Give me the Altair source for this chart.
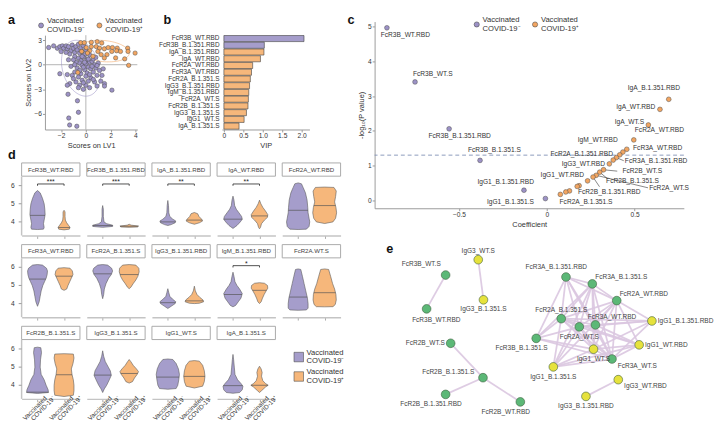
import altair as alt
import numpy as np
import pandas as pd

FONT = "Liberation Sans"
PURPLE = "#a59dcb"
ORANGE = "#f6b77b"
DOT_PURPLE = "#9c92c6"
DOT_ORANGE = "#f2a561"
GREEN = "#5cb877"
YELLOW = "#e6e23c"
EDGE = "#dac6e0"
AX = "#9a9a9a"
TXT = "#333333"

GROUPS = ["Vaccinated COVID-19⁻", "Vaccinated COVID-19⁺"]

# ---------------- panel a: PLS-DA scores ----------------
A_NEG = [(-3.0, 2.1), (-2.6, 2.3), (-2.3, 2.0), (-2.1, 2.2), (-1.9, 2.3), (-1.8, 2.0), (-1.6, 2.3),
         (-1.5, 1.9), (-1.4, 2.2), (-1.2, 1.7), (-1.1, 2.4), (-1.0, 2.0), (-0.9, 1.5), (-0.8, 2.2),
         (-0.7, 1.8), (-0.6, 2.5), (-0.5, 1.4), (-0.4, 2.0), (-0.3, 1.6), (-0.2, 2.3), (-0.1, 1.2),
         (0.0, 1.8), (-1.3, 1.3), (-0.9, 1.0), (-2.0, 1.6), (-1.6, 1.5),
         (-0.6, 0.8), (-0.4, 0.5), (-0.2, 0.9), (0.1, 0.6), (0.3, 0.3), (-0.5, 0.2), (-0.3, -0.1),
         (0.0, 0.1), (0.2, -0.3), (0.5, 0.4), (0.7, 0.0), (-0.8, 0.3), (-1.0, 0.6), (-0.7, -0.4),
         (-0.1, -0.6), (0.4, -0.5), (0.8, -0.4), (1.0, 0.2), (-1.2, -0.2), (-0.9, -0.9), (-0.4, -1.1),
         (0.1, -1.0), (0.6, -0.9), (1.1, -0.7), (-1.5, -1.2), (-1.1, -1.3), (-0.6, -1.5), (0.0, -1.4),
         (0.4, -1.6), (0.9, -1.3), (1.3, -1.3), (-0.3, -1.9), (0.2, -2.0), (0.7, -2.1), (1.2, -2.0),
         (1.5, -2.3), (-0.8, -2.1), (-1.3, -2.3), (-0.5, -2.5), (0.0, -2.5), (0.3, -2.8), (-0.2, -3.0),
         (-0.6, -2.8), (0.9, -2.6), (1.5, -2.6), (2.1, -3.1), (0.5, -0.2), (0.2, 0.7), (-0.1, 0.3),
         (0.6, 0.7), (0.9, -0.1), (-0.2, -0.3), (1.4, -0.5), (-2.1, -1.1), (-1.5, -2.5), (-0.3, 1.0),
         (0.3, 1.2), (-0.5, -0.7), (0.3, -1.2), (-1.0, -1.7), (0.6, -1.8), (-0.9, 0.0), (-1.4, 0.6),
         (0.8, 0.9), (-0.2, -2.2),
         (-1.44, -3.6), (-0.68, -4.4), (-0.6, -5.8), (-1.38, -6.5), (-1.31, -7.35), (-0.73, -7.5)]
A_POS = [(-0.42, 2.69), (-0.13, 2.69), (0.44, 2.73), (0.91, 2.81), (1.28, 2.65), (0.44, 2.21),
         (0.84, 2.21), (1.1, 2.02), (1.49, 1.94), (1.8, 2.09), (2.14, 2.09), (2.53, 2.02), (3.37, 2.02),
         (3.97, 1.42), (2.09, 1.62), (2.48, 1.7), (2.79, 1.62), (3.4, 1.62), (3.13, 0.71), (3.45, -0.08),
         (1.7, 1.23), (1.23, 1.23), (0.97, 1.62), (0.31, 1.7), (0.03, 2.09), (0.13, 1.42), (-0.65, -0.95),
         (-0.34, 1.62), (1.49, 0.83), (0.57, 1.03), (2.4, 0.83)]
ELL_K = 1.6

# ---------------- panel b: VIP ----------------
B_FEATURES = ["FcR3B_WT.RBD", "FcR3B_B.1.351.RBD", "IgA_B.1.351.RBD", "IgA_WT.RBD", "FcR2A_WT.RBD",
              "FcR3A_WT.RBD", "FcR2A_B.1.351.S", "IgG3_B.1.351.RBD", "IgM_B.1.351.RBD", "FcR2A_WT.S",
              "FcR2B_B.1.351.S", "IgG3_B.1.351.S", "IgG1_WT.S", "IgA_B.1.351.S"]
B_VIP = [2.06, 1.04, 1.03, 0.94, 0.74, 0.71, 0.68, 0.66, 0.64, 0.63, 0.62, 0.58, 0.52, 0.39]
B_GROUP = [0, 0, 1, 1, 1, 1, 1, 1, 1, 1, 1, 1, 1, 1]

# ---------------- panel c: volcano ----------------
C_NAMES = ["FcR3B_WT.RBD", "FcR3B_WT.S", "FcR3B_B.1.351.RBD", "FcR3B_B.1.351.S", "IgG1_B.1.351.RBD",
           "IgG1_B.1.351.S", "IgA_B.1.351.RBD", "IgA_WT.RBD", "IgA_WT.S", "FcR2A_WT.RBD", "FcR3A_WT.RBD",
           "IgM_WT.RBD", "FcR2A_B.1.351.RBD", "FcR3A_B.1.351.RBD", "IgM_B.1.351.RBD", "IgG3_WT.RBD",
           "FcR2B_WT.S", "FcR2B_B.1.351.S", "FcR2A_WT.S", "FcR2B_B.1.351.RBD", "IgG1_WT.RBD",
           "IgG3_B.1.351.RBD", "IgG3_B.1.351.S", "FcR2A_B.1.351.S", "IgA_B.1.351.S", "IgM_WT.S"]
C_COEF = [-0.91, -0.75, -0.556, -0.38, -0.13, -0.008, 0.694, 0.644, 0.578, 0.495, 0.455, 0.433, 0.415,
          0.396, 0.378, 0.356, 0.323, 0.301, 0.281, 0.263, 0.232, 0.184, 0.173, 0.129, 0.108, 0.077]
C_LOGP = [4.97, 3.41, 2.06, 1.15, 0.29, 0.05, 2.91, 2.62, 2.17, 1.74, 1.47, 1.39, 1.31, 1.23, 1.16,
          1.05, 0.88, 0.81, 0.72, 0.67, 0.56, 0.42, 0.40, 0.27, 0.24, 0.17]
C_P_THRESHOLD = 0.05
C_LABELS = ["FcR3B_WT.RBD", "FcR3B_WT.S", "FcR3B_B.1.351.RBD", "FcR3B_B.1.351.S", "IgG1_B.1.351.RBD",
            "IgG1_B.1.351.S", "IgA_B.1.351.RBD", "IgA_WT.RBD", "IgA_WT.S", "FcR2A_WT.RBD", "IgM_WT.RBD",
            "FcR3A_WT.RBD", "FcR2A_B.1.351.RBD", "IgG3_WT.RBD", "FcR3A_B.1.351.RBD", "IgG1_WT.RBD",
            "FcR2B_WT.S", "FcR2B_B.1.351.S", "FcR2A_WT.S", "FcR2B_B.1.351.RBD", "FcR2A_B.1.351.S"]
C_LABEL_X = [-0.805, -0.649, -0.496, -0.298, -0.234, -0.207, 0.609, 0.506, 0.47, 0.641, 0.29, 0.631,
             0.199, 0.208, 0.622, 0.088, 0.543, 0.488, 0.696, 0.355, 0.223]
C_LABEL_Y = [4.75, 3.65, 1.86, 1.44, 0.535, -0.04, 3.22, 2.69, 2.25, 2.01, 1.73, 1.51, 1.34, 1.04, 1.12,
             0.74, 0.84, 0.56, 0.34, 0.24, -0.04]
C_LEADERS = ["FcR3A_B.1.351.RBD", "FcR2B_WT.S", "FcR2B_B.1.351.S", "FcR2A_WT.S", "FcR2B_B.1.351.RBD"]
C_LEADER_X = [0.438, 0.401, 0.346, 0.576, 0.30]
C_LEADER_Y = [1.14, 0.84, 0.62, 0.36, 0.39]

# ---------------- panel d: violins ----------------
D_ORDER = ["FcR3B_WT.RBD", "FcR3B_B.1.351.RBD", "IgA_B.1.351.RBD", "IgA_WT.RBD", "FcR2A_WT.RBD",
           "FcR3A_WT.RBD", "FcR2A_B.1.351.S", "IgG3_B.1.351.RBD", "IgM_B.1.351.RBD", "FcR2A.WT.S",
           "FcR2B_B.1.351.S", "IgG3_B.1.351.S", "IgG1_WT.S", "IgA_B.1.351.S"]
D_TICKS = [4, 5, 6]
# (values top->bottom, relative half-widths, median) for COVID-19- and COVID-19+
VIOLINS = {
    "FcR3B_WT.RBD": [([5.73, 5.6, 5.3, 5.0, 4.7, 4.4, 4.1, 3.9, 3.7, 3.6, 3.58], [0, 8, 15, 20, 22, 23, 20, 18, 20, 18, 0], 4.36),
                     ([4.64, 4.55, 4.3, 4.1, 3.95, 3.8, 3.7, 3.6, 3.56], [0, 3, 3, 4, 8, 14, 18, 16, 0], 3.69)],
    "FcR3B_B.1.351.RBD": [([4.9, 4.7, 4.3, 4.0, 3.9, 3.82, 3.75, 3.7], [0, 2, 2, 4, 12, 30, 30, 0], 3.8),
                          ([3.87, 3.82, 3.77, 3.72, 3.7], [0, 6, 28, 25, 0], 3.76)],
    "IgA_B.1.351.RBD": [([5.18, 4.9, 4.5, 4.3, 4.15, 4.05, 3.95, 3.85, 3.8], [0, 2, 3, 6, 15, 24, 22, 10, 0], 4.0),
                        ([4.52, 4.45, 4.3, 4.15, 4.05, 3.95, 3.87], [0, 10, 14, 22, 25, 15, 0], 4.1)],
    "IgA_WT.RBD": [([5.42, 5.2, 4.9, 4.7, 4.5, 4.3, 4.15, 4.0, 3.8, 3.64], [0, 3, 5, 10, 18, 26, 28, 22, 12, 0], 4.15),
                   ([5.2, 5.0, 4.8, 4.6, 4.4, 4.25, 4.1, 3.9, 3.7, 3.62], [0, 4, 10, 18, 25, 24, 15, 6, 3, 0], 4.33)],
    "FcR2A_WT.RBD": [([6.15, 6.1, 5.9, 5.6, 5.2, 4.8, 4.5, 4.2, 4.0, 3.75, 3.6, 3.58], [0, 10, 15, 22, 27, 29, 30, 33, 35, 33, 25, 0], 4.64),
                     ([5.92, 5.9, 5.7, 5.4, 5.1, 4.8, 4.5, 4.2, 4.0, 3.91], [0, 28, 35, 33, 30, 34, 36, 33, 25, 0], 4.9)],
    "FcR3A_WT.RBD": [([6.15, 6.12, 5.95, 5.8, 5.6, 5.4, 5.2, 5.0, 4.7, 4.4, 4.1, 3.85], [0, 15, 27, 30, 29, 26, 21, 16, 11, 8, 5, 0], 5.35),
                     ([5.98, 5.95, 5.8, 5.6, 5.4, 5.2, 5.0, 4.8, 4.73], [0, 18, 25, 27, 22, 17, 12, 8, 0], 5.51)],
    "FcR2A_B.1.351.S": [([6.15, 6.12, 5.95, 5.8, 5.6, 5.4, 5.1, 4.8, 4.5, 4.27], [0, 15, 27, 30, 26, 18, 10, 5, 3, 0], 5.64),
                        ([6.15, 6.12, 5.95, 5.75, 5.5, 5.3, 5.1, 4.9, 4.82], [0, 20, 29, 30, 26, 20, 12, 5, 0], 5.6)],
    "IgG3_B.1.351.RBD": [([4.82, 4.6, 4.4, 4.25, 4.1, 4.0, 3.85, 3.73], [0, 3, 6, 14, 24, 22, 10, 0], 4.05),
                         ([4.96, 4.7, 4.5, 4.35, 4.2, 4.1, 4.02, 4.0], [0, 3, 8, 16, 26, 28, 15, 0], 4.15)],
    "IgM_B.1.351.RBD": [([5.73, 5.5, 5.2, 5.0, 4.8, 4.55, 4.3, 4.1, 3.9, 3.82], [0, 3, 6, 12, 20, 28, 24, 16, 8, 0], 4.5),
                        ([5.15, 5.12, 5.0, 4.85, 4.7, 4.5, 4.3, 4.1, 4.0], [0, 15, 24, 25, 20, 14, 9, 5, 0], 4.73)],
    "FcR2A.WT.S": [([5.91, 5.88, 5.5, 5.1, 4.7, 4.3, 4.0, 3.75, 3.65, 3.63], [0, 8, 13, 18, 23, 28, 30, 30, 25, 0], 4.36),
                   ([5.91, 5.88, 5.5, 5.1, 4.8, 4.5, 4.2, 3.95, 3.83, 3.82], [0, 12, 18, 24, 30, 34, 35, 32, 25, 0], 4.6)],
    "FcR2B_B.1.351.S": [([6.1, 6.07, 5.8, 5.4, 5.0, 4.6, 4.3, 4.0, 3.75, 3.6, 3.55], [0, 10, 12, 9, 8, 11, 20, 26, 32, 33, 0], 3.62),
                        ([5.74, 5.72, 5.5, 5.2, 4.9, 4.6, 4.3, 4.0, 3.7, 3.45, 3.38], [0, 28, 30, 27, 22, 24, 28, 30, 30, 28, 0], 4.58)],
    "IgG3_B.1.351.S": [([5.9, 5.6, 5.3, 5.0, 4.8, 4.55, 4.3, 4.0, 3.8, 3.6], [0, 3, 8, 17, 23, 26, 20, 12, 5, 0], 4.56),
                       ([5.42, 5.3, 5.1, 4.9, 4.75, 4.6, 4.4, 4.2, 4.12], [0, 5, 12, 22, 28, 24, 16, 10, 0], 4.65)],
    "IgG1_WT.S": [([5.45, 5.42, 5.2, 4.9, 4.6, 4.3, 4.0, 3.82, 3.78], [0, 15, 25, 32, 35, 33, 30, 25, 0], 4.45),
                  ([5.36, 5.33, 5.1, 4.8, 4.5, 4.2, 3.95, 3.85], [0, 15, 25, 30, 32, 30, 25, 0], 4.49)],
    "IgA_B.1.351.S": [([5.7, 5.4, 5.0, 4.6, 4.3, 4.1, 3.95, 3.75, 3.6, 3.56], [0, 2, 4, 6, 14, 24, 30, 28, 20, 0], 3.98),
                      ([5.05, 4.9, 4.7, 4.5, 4.25, 4.1, 4.0, 3.9, 3.7, 3.6], [0, 5, 8, 6, 10, 18, 26, 18, 6, 0], 4.0)],
}
D_SIG = {"FcR3B_WT.RBD": "***", "FcR3B_B.1.351.RBD": "***", "IgA_B.1.351.RBD": "**",
         "IgA_WT.RBD": "**", "IgM_B.1.351.RBD": "*"}
D_SIG_Y = 6.09

# ---------------- panel e: network ----------------
E_NODES = ["IgG3_WT.S", "IgG3_B.1.351.S", "FcR3B_WT.S", "FcR3B_WT.RBD", "FcR2B_WT.S", "FcR2B_B.1.351.S",
           "FcR2B_B.1.351.RBD", "FcR2B_WT.RBD", "FcR3A_B.1.351.RBD", "FcR3A_B.1.351.S", "FcR2A_WT.RBD",
           "FcR2A_B.1.351.S", "FcR3A_WT.RBD", "FcR2A_WT.S", "IgG1_B.1.351.RBD", "FcR3B_B.1.351.S",
           "IgG1_WT.RBD", "IgG1_WT.S", "FcR3A_WT.S", "IgG1_B.1.351.S", "IgG3_WT.RBD", "IgG3_B.1.351.RBD"]
E_X = [9.5, 10.05, 6.07, 4.07, 6.6, 10.0, 6.07, 13.93, 18.73, 21.5, 24.07, 18.23, 21.83, 20.13, 27.77,
       15.6, 26.43, 21.63, 23.57, 17.4, 24.23, 20.83]
E_Y = [17.03, 12.95, 15.47, 12.03, 8.53, 5.03, 3.33, 2.57, 15.27, 14.57, 12.87, 11.03, 10.4, 10.2, 10.8,
       9.03, 8.37, 7.93, 6.93, 6.13, 4.83, 3.13]
E_SIDE = ["above", "below", "upper-left", "below-right", "left", "left-up", "below-left", "below-left",
          "above-left", "upper-right", "upper-right", "above", "above-right", "below", "right", "below-left",
          "right", "below", "lower-right", "below", "lower-right", "below"]
E_PAIRS = [("IgG3_WT.S", "IgG3_B.1.351.S"), ("FcR3B_WT.S", "FcR3B_WT.RBD"), ("FcR2B_WT.S", "FcR2B_B.1.351.S"),
           ("FcR2B_B.1.351.S", "FcR2B_B.1.351.RBD"), ("FcR2B_B.1.351.S", "FcR2B_WT.RBD"),
           ("IgG3_WT.RBD", "IgG3_B.1.351.RBD")]
E_CLUSTER = {"A": "FcR3A_B.1.351.RBD", "B": "FcR3A_B.1.351.S", "C": "FcR2A_WT.RBD", "D": "FcR2A_B.1.351.S",
             "E": "FcR3A_WT.RBD", "F": "FcR2A_WT.S", "G": "IgG1_B.1.351.RBD", "H": "FcR3B_B.1.351.S",
             "I": "IgG1_WT.RBD", "J": "IgG1_WT.S", "K": "FcR3A_WT.S", "L": "IgG1_B.1.351.S"}
E_CLUSTER_EDGES = ("AB AC AD AE AF AK AH BC BD BE BF BJ BK BL BH CD CE CF CG CI CK CL CJ DE DF DG DH DI "
                   "DJ DK DL EF EG EI EK EJ FG FI FJ FK FL FH GJ GK IJ IK IL JK JL KL HJ HK").split()

# =====================================================================
AXB = dict(grid=False, domainColor=AX, tickColor=AX, tickSize=2.5, labelFontSize=6.8, titleFontSize=7.6,
           labelColor=TXT, titleColor=TXT, titleFontWeight="normal", labelPadding=1, titlePadding=2)


def sc(domain):
    return alt.Scale(domain=domain, nice=False, zero=False)


def R(ch):
    return ch.resolve_scale(color="independent", fill="independent", stroke="independent")


def letter(ch, x, y):
    return alt.Chart(pd.DataFrame({"t": [ch]})).mark_text(
        fontSize=13, fontWeight="bold", align="left", baseline="top", color="#111"
    ).encode(text="t:N", x=alt.value(x), y=alt.value(y))


def manual_legend(x0, y0, dx, dy, shape, size, colors, lh=9.0, fs=7.8, gap=6):
    """Legend drawn with marks: symbol + two text lines per group (positions in pixels)."""
    rows = []
    for i, g in enumerate(GROUPS):
        l1, l2 = g.split(" ", 1)
        rows.append({"grp": g, "sx": x0 + i * dx, "sy": y0 + i * dy, "l1": l1, "l2": l2})
    df = pd.DataFrame(rows)
    PX = lambda f: alt.X(f, scale=None, axis=None)
    PY = lambda f: alt.Y(f, scale=None, axis=None)
    sym = alt.Chart(df).mark_point(shape=shape, size=size, filled=True, opacity=1, stroke="#4d4d4d",
                                   strokeWidth=0.6).encode(
        x=PX("sx:Q"), y=PY("sy:Q"),
        fill=alt.Fill("grp:N", scale=alt.Scale(domain=GROUPS, range=colors), legend=None))
    t1 = alt.Chart(df).mark_text(align="left", baseline="middle", fontSize=fs, color=TXT, dx=gap,
                                 dy=-lh / 2).encode(x=PX("sx:Q"), y=PY("sy:Q"), text="l1:N")
    t2 = alt.Chart(df).mark_text(align="left", baseline="middle", fontSize=fs, color=TXT, dx=gap,
                                 dy=lh / 2).encode(x=PX("sx:Q"), y=PY("sy:Q"), text="l2:N")
    return [sym, t1, t2]


def spacer(w, h, extra=()):
    base = alt.Chart(pd.DataFrame({"k": [0]})).mark_rule(opacity=0).encode(
        x=alt.value(0.5), y=alt.value(0), y2=alt.value(1))
    return alt.layer(base, *extra).properties(width=w, height=h)


# ---- a
a_df = pd.DataFrame([{"x": x, "y": y, "grp": GROUPS[0]} for x, y in A_NEG] +
                    [{"x": x, "y": y, "grp": GROUPS[1]} for x, y in A_POS])
ell_rows = []
for g, pts in zip(GROUPS, [A_NEG, A_POS]):
    arr = np.array(pts)
    m = arr.mean(0)
    vals, vecs = np.linalg.eigh(np.cov(arr.T))
    t = np.linspace(0, 2 * np.pi, 90)
    ring = (vecs @ np.diag(ELL_K * np.sqrt(vals)) @ np.vstack([np.cos(t), np.sin(t)])).T + m
    for i, (ex, ey) in enumerate(ring):
        ell_rows.append({"x": ex, "y": ey, "grp": g, "i": i})
ell_df = pd.DataFrame(ell_rows)
xs_a, ys_a = sc([-3.3, 4.15]), sc([-7.9, 3.6])
xa = alt.Axis(values=[-2, 0, 2, 4], title="Scores on LV1", **AXB)
ya = alt.Axis(values=[-6, -3, 0, 3], title="Scores on LV2", **AXB)
dot_scale = alt.Scale(domain=GROUPS, range=[DOT_PURPLE, DOT_ORANGE])
a_ref_x = alt.Chart(pd.DataFrame({"z": [0]})).mark_rule(color="#a0a0a0", strokeWidth=0.8).encode(
    x=alt.X("z:Q", scale=xs_a, axis=xa))
a_ref_y = alt.Chart(pd.DataFrame({"z": [0]})).mark_rule(color="#a0a0a0", strokeWidth=0.8).encode(
    y=alt.Y("z:Q", scale=ys_a, axis=ya))
a_ell = alt.Chart(ell_df).mark_line(strokeWidth=0.8, opacity=0.7).encode(
    x=alt.X("x:Q", scale=xs_a, axis=xa), y=alt.Y("y:Q", scale=ys_a, axis=ya),
    stroke=alt.Stroke("grp:N", scale=dot_scale, legend=None), order="i:Q", detail="grp:N")
a_pts = alt.Chart(a_df).mark_circle(size=20, stroke="#4d4d4d", strokeWidth=0.5, opacity=1).encode(
    x=alt.X("x:Q", scale=xs_a, axis=xa), y=alt.Y("y:Q", scale=ys_a, axis=ya),
    color=alt.Color("grp:N", scale=dot_scale, legend=None))
panel_a = alt.layer(a_ref_x, a_ref_y, a_ell, a_pts).properties(width=95, height=97)

# ---- b
b_df = pd.DataFrame({"feature": B_FEATURES, "vip": B_VIP, "zero": 0.0,
                     "grp": [GROUPS[g] for g in B_GROUP]})
bar_scale = alt.Scale(domain=GROUPS, range=[PURPLE, ORANGE])
b_bars = alt.Chart(b_df).mark_bar(stroke="#3d3d3d", strokeWidth=0.6).encode(
    y=alt.Y("feature:N", sort=B_FEATURES, scale=alt.Scale(paddingInner=0.1, paddingOuter=0.05),
            axis=alt.Axis(title=None, domain=False, ticks=False, labelFontSize=6.6, labelPadding=3,
                          labelColor=TXT)),
    x=alt.X("vip:Q", scale=sc([-0.05, 2.2]),
            axis=alt.Axis(values=[0, 0.5, 1, 1.5, 2], title="VIP",
                          labelExpr="datum.value == 0 ? '0' : format(datum.value, '.1f')", **AXB)),
    x2="zero:Q",
    color=alt.Color("grp:N", scale=bar_scale, legend=None))
panel_b = alt.layer(b_bars).properties(width=90, height=97)

# top strip of the left column: panel letters a, b and the legend of panel a
top_strip = spacer(1, 12, [letter("a", 0, -8), letter("b", 160, -8),
                           *manual_legend(34, 4, 60, 0, "circle", 26, [DOT_PURPLE, DOT_ORANGE])])

# ---- c
c_df = pd.DataFrame({"name": C_NAMES, "coef": C_COEF, "logp": C_LOGP,
                     "grp": [GROUPS[0] if v < 0 else GROUPS[1] for v in C_COEF]})
lbl_df = pd.DataFrame({"name": C_LABELS, "lx": C_LABEL_X, "ly": C_LABEL_Y})
pos = dict(zip(C_NAMES, zip(C_COEF, C_LOGP)))
seg_df = pd.DataFrame({"x": [pos[n][0] for n in C_LEADERS], "y": [pos[n][1] for n in C_LEADERS],
                       "x2": C_LEADER_X, "y2": C_LEADER_Y})
xs_c, ys_c = sc([-0.98, 0.78]), sc([-0.23, 5.15])
xc = alt.Axis(values=[-0.5, 0, 0.5], title="Coefficient",
              labelExpr="datum.value == 0 ? '0' : format(datum.value, '.1f')", **AXB)
yc = alt.Axis(values=[0, 1, 2, 3, 4, 5], title="-log₁₀(P value)", **AXB)
c_thr = alt.Chart(pd.DataFrame({"t": [-np.log10(C_P_THRESHOLD)]})).mark_rule(
    color="#7d8fb3", strokeDash=[4, 3], strokeWidth=0.9).encode(y=alt.Y("t:Q", scale=ys_c, axis=yc))
c_seg = alt.Chart(seg_df).mark_rule(color="#333", strokeWidth=0.6).encode(
    x=alt.X("x:Q", scale=xs_c, axis=xc), y=alt.Y("y:Q", scale=ys_c, axis=yc), x2="x2:Q", y2="y2:Q")
c_pts = alt.Chart(c_df).mark_circle(size=24, stroke="#4d4d4d", strokeWidth=0.5, opacity=1).encode(
    x=alt.X("coef:Q", scale=xs_c, axis=xc), y=alt.Y("logp:Q", scale=ys_c, axis=yc),
    color=alt.Color("grp:N", scale=dot_scale, legend=None))
c_lbl = alt.Chart(lbl_df).mark_text(fontSize=6.8, color=TXT).encode(
    x=alt.X("lx:Q", scale=xs_c, axis=xc), y=alt.Y("ly:Q", scale=ys_c, axis=yc), text="name:N")
panel_c = alt.layer(c_thr, c_seg, c_pts, c_lbl,
                    *manual_legend(105, 3, 60, 0, "circle", 28, [DOT_PURPLE, DOT_ORANGE]),
                    letter("c", -28, -8)).properties(width=318, height=192)

# ---- d
HW = 1.0 / 80.0
W_D, H_D = 60, 75
ys_d, xs_d = sc([3.25, 7.27]), sc([-0.6, 1.6])
viol_scale = alt.Scale(domain=GROUPS, range=[PURPLE, ORANGE])
LBL_LINES = [g.split(" ", 1) for g in GROUPS]


def d_gutter(row):
    tdf = pd.DataFrame({"v": D_TICKS, "t": [str(v) for v in D_TICKS]})
    layers = [alt.Chart(tdf).mark_text(align="right", baseline="middle", fontSize=6.8, color=TXT).encode(
        x=alt.value(7), y=alt.Y("v:Q", scale=ys_d, axis=None), text="t:N")]
    if row == 0:
        layers.append(letter("d", 0, -14))
    return alt.layer(*layers).properties(width=7, height=H_D)


def d_panel(i, feat):
    row, col = divmod(i, 5)
    xax = alt.Axis(values=[0, 1], title=None, grid=False, domainColor="#c4c4c4", domainWidth=1.5,
                   tickColor="#aaa", tickSize=3, labels=False)
    vrows, mrows = [], []
    for gi, (vals, ws, med) in enumerate(VIOLINS[feat]):
        for v, w in zip(vals, ws):
            vrows.append({"grp": GROUPS[gi], "v": v, "lo": gi - w * HW, "hi": gi + w * HW})
        wm = float(np.interp(med, vals[::-1], ws[::-1]))
        mrows.append({"v": med, "lo": gi - wm * HW, "hi": gi + wm * HW})
    X = lambda f: alt.X(f, scale=xs_d, axis=xax)
    Y = lambda f: alt.Y(f, scale=ys_d, axis=None)
    layers = [
        alt.Chart(pd.DataFrame({"a": [6.52], "b": [7.25]})).mark_rect(
            fill="white", stroke="#a8a8a8", strokeWidth=1).encode(
            x=alt.value(0), x2=alt.value(W_D), y=Y("a:Q"), y2="b:Q"),
        alt.Chart(pd.DataFrame({"ty": [6.885], "feature": [feat]})).mark_text(
            fontSize=6.3, color="#444").encode(x=alt.value(W_D / 2), y=Y("ty:Q"), text="feature:N"),
    ]
    if col == 0:
        layers.append(alt.Chart(pd.DataFrame({"a": [3.25], "b": [6.5]})).mark_rule(
            color="#c4c4c4", strokeWidth=1.5).encode(x=alt.value(0), y=Y("a:Q"), y2="b:Q"))
        layers.append(alt.Chart(pd.DataFrame({"v": D_TICKS})).mark_rule(color=AX, strokeWidth=1).encode(
            x=alt.value(-3), x2=alt.value(0), y=Y("v:Q")))
    layers.append(alt.Chart(pd.DataFrame(vrows)).mark_area(
        orient="horizontal", stroke="#5a5a5a", strokeWidth=0.6, opacity=1).encode(
        y=Y("v:Q"), x=X("lo:Q"), x2="hi:Q", color=alt.Color("grp:N", scale=viol_scale, legend=None)))
    layers.append(alt.Chart(pd.DataFrame(mrows)).mark_rule(color="#555", strokeWidth=0.7).encode(
        y=Y("v:Q"), x=X("lo:Q"), x2="hi:Q"))
    if feat in D_SIG:
        layers.append(alt.Chart(pd.DataFrame({"x": [0.0], "x2": [1.0], "y": [D_SIG_Y]})).mark_rule(
            color="#222", strokeWidth=0.8).encode(x=X("x:Q"), x2="x2:Q", y=Y("y:Q")))
        layers.append(alt.Chart(pd.DataFrame({"x": [0.0, 1.0], "y": [D_SIG_Y] * 2, "y2": [D_SIG_Y - 0.1] * 2}))
                      .mark_rule(color="#222", strokeWidth=0.8).encode(x=X("x:Q"), y=Y("y:Q"), y2="y2:Q"))
        layers.append(alt.Chart(pd.DataFrame({"x": [0.5], "y": [D_SIG_Y], "s": [D_SIG[feat]]})).mark_text(
            fontSize=7, baseline="bottom", dy=1.5, color="#222").encode(x=X("x:Q"), y=Y("y:Q"), text="s:N"))
    if row == 2:
        ldf = pd.DataFrame({"c": [0.0, 1.0], "l1": [p[0] for p in LBL_LINES], "l2": [p[1] for p in LBL_LINES]})
        for key, ddx, ddy in (("l1", 7, 5), ("l2", 13, 11)):
            layers.append(alt.Chart(ldf).mark_text(
                angle=315, align="right", baseline="middle", fontSize=6.5, color=TXT, dx=ddx, dy=ddy).encode(
                x=X("c:Q"), y=alt.value(H_D), text=f"{key}:N"))
    return R(alt.layer(*layers)).properties(width=W_D, height=H_D)


d_legend = alt.layer(*manual_legend(17, 32, 0, 20, "square", 95, [PURPLE, ORANGE], lh=9, fs=7.8, gap=8)
                     ).properties(width=W_D, height=H_D)
d_cells = []
for r in range(3):
    d_cells.append(d_gutter(r))
    for c in range(5):
        k = r * 5 + c
        d_cells.append(d_panel(k, D_ORDER[k]) if k < len(D_ORDER) else d_legend)
panel_d = R(alt.concat(*d_cells, columns=6, spacing={"row": 4, "column": 2}, align="each"))

# ---- e
node_pos = dict(zip(E_NODES, zip(E_X, E_Y)))
edges = list(E_PAIRS) + [(E_CLUSTER[p[0]], E_CLUSTER[p[1]]) for p in E_CLUSTER_EDGES]
edge_df = pd.DataFrame({"x": [node_pos[a][0] for a, b in edges], "y": [node_pos[a][1] for a, b in edges],
                        "x2": [node_pos[b][0] for a, b in edges], "y2": [node_pos[b][1] for a, b in edges]})
node_df = pd.DataFrame({"name": E_NODES, "x": E_X, "y": E_Y, "side": E_SIDE,
                        "kind": ["FcR" if n.startswith("FcR") else "Ig" for n in E_NODES]})
xs_e, ys_e = sc([-1.4, 34.2]), sc([0.7, 18.7])
XE = lambda f: alt.X(f, scale=xs_e, axis=None)
YE = lambda f: alt.Y(f, scale=ys_e, axis=None)
e_edges = alt.Chart(edge_df).mark_rule(color=EDGE, strokeWidth=1.8, opacity=0.9).encode(
    x=XE("x:Q"), y=YE("y:Q"), x2="x2:Q", y2="y2:Q")
e_nodes = alt.Chart(node_df).mark_circle(size=80, opacity=1, stroke="#3e5e3e", strokeWidth=0.6).encode(
    x=XE("x:Q"), y=YE("y:Q"),
    fill=alt.Fill("kind:N", scale=alt.Scale(domain=["FcR", "Ig"], range=[GREEN, YELLOW]), legend=None))
SIDE_STYLE = {"above": ("center", 0, -9), "above-left": ("center", -10, -10), "above-right": ("center", 17, -8),
              "below": ("center", 0, 10), "below-left": ("center", -15, 10), "below-right": ("center", 10, 11),
              "left": ("right", -6, 0), "right": ("left", 6, 0), "upper-left": ("right", -5, -11),
              "left-up": ("right", -9, -6), "upper-right": ("left", 3, -7), "lower-right": ("left", 6, 7)}
e_labels = []
for side, (al, dx, dy) in SIDE_STYLE.items():
    sub = node_df[node_df["side"] == side]
    if len(sub) == 0:
        continue
    e_labels.append(alt.Chart(sub).mark_text(fontSize=6.7, color="#444", align=al, dx=dx, dy=dy).encode(
        x=XE("x:Q"), y=YE("y:Q"), text="name:N"))
panel_e = alt.layer(e_edges, e_nodes, *e_labels, letter("e", 12, 0)).properties(width=348, height=182)

# ---- assemble
ab_inner = R(alt.hconcat(panel_a, panel_b, spacing=20))
ab = R(alt.hconcat(spacer(12, 1), ab_inner, spacing=4))
left = R(alt.vconcat(top_strip, ab, panel_d, spacing=0))
right = R(alt.vconcat(panel_c, panel_e, spacing=16))
chart = R(alt.hconcat(left, right, spacing=3)).properties(
    padding={"left": 0, "top": 0, "right": 0, "bottom": 0})
chart = chart.configure(font=FONT).configure_view(stroke=None).configure_axis(
    labelFont=FONT, titleFont=FONT)

chart.save("out.html", embed_options={"renderer": "svg", "actions": False})
